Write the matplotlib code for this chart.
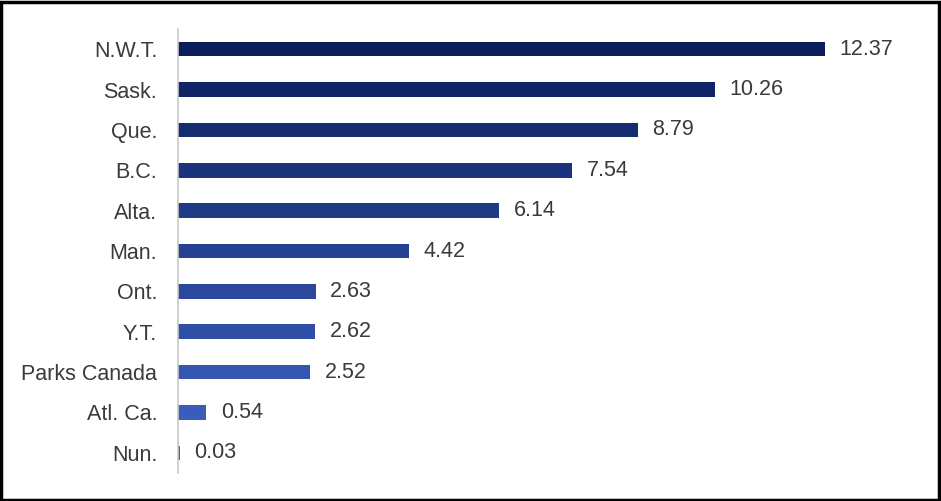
import matplotlib.pyplot as plt
import matplotlib.colors as mcolors
import numpy as np

plt.rcParams['font.family'] = ['Liberation Sans', 'DejaVu Sans']

# data (top to bottom as shown)
regions = ["N.W.T.", "Sask.", "Que.", "B.C.", "Alta.", "Man.", "Ont.", "Y.T.",
           "Parks Canada", "Atl. Ca.", "Nun."]
values = [12.37, 10.26, 8.79, 7.54, 6.14, 4.42, 2.63, 2.62, 2.52, 0.54, 0.03]

# colour ramp dark navy -> mid blue
cmap = mcolors.LinearSegmentedColormap.from_list("blues", ["#0a1e5c", "#3f64c6"])
colors = [cmap(i / (len(regions) - 1)) for i in range(len(regions))]

fig = plt.figure(figsize=(9.41, 5.01), dpi=100)
ax = fig.add_axes([0.1892, 0.056, 0.778, 0.886])

ypos = np.arange(len(regions))
ax.barh(ypos, values, height=0.36, color=colors)
ax.set_ylim(len(regions) - 0.5, -0.5)
ax.set_xlim(0, 14)

for y, v in zip(ypos, values):
    ax.text(v + 0.28, y, f"{v:.2f}", va="center", ha="left", fontsize=15.5, color="#3a3a3a")

ax.set_yticks(ypos)
ax.set_yticklabels(regions, fontsize=15.5, color="#3a3a3a")
ax.tick_params(axis="y", length=0, pad=15)
ax.set_xticks([])
for s in ["top", "right", "bottom"]:
    ax.spines[s].set_visible(False)
ax.spines["left"].set_color("#c8c8c8")
ax.spines["left"].set_linewidth(1.2)

# black frame round the whole figure
fig.patches.append(plt.Rectangle((0.001, 0.002), 0.997, 0.995, transform=fig.transFigure,
                                 fill=False, edgecolor="black", linewidth=2.5))

fig.savefig("out.png", dpi=100)
